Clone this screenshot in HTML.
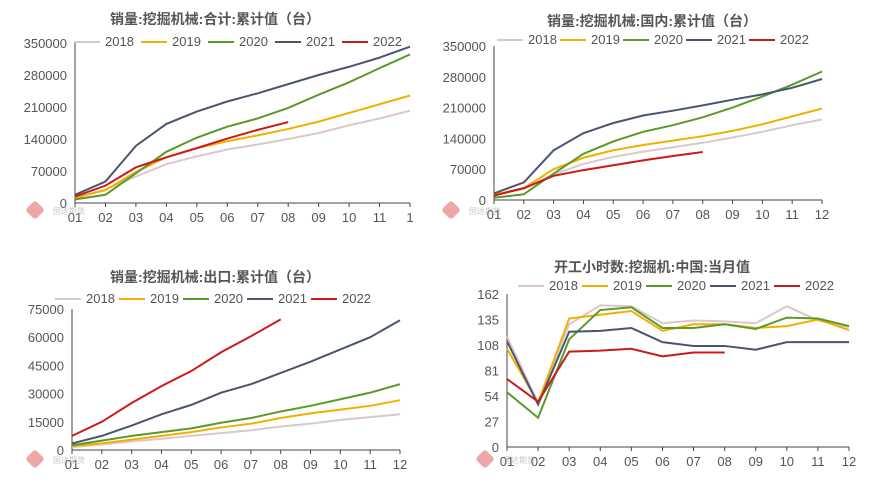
<!DOCTYPE html>
<html><head><meta charset="utf-8"><style>
body{margin:0;background:#fff;width:871px;height:491px;overflow:hidden;font-family:"Liberation Sans","Noto Sans CJK SC",sans-serif}
svg{display:block}
</style></head><body>
<svg id="s" width="871" height="491"></svg>
<script>
const months=["01","02","03","04","05","06","07","08","09","10","11","12"];
const years=["2018","2019","2020","2021","2022"];
const colors=["#d9c8cc","#f0b000","#5a9a2a","#4a5570","#cc1a1a"];
const tlTicks=[0,70000,140000,210000,280000,350000];
const tl2018=[10000,30000,58000,85000,102000,117000,128000,140000,153000,170000,185000,202000];
const tl2019=[12000,28000,68000,100000,120000,135000,148000,162000,178000,197000,216000,235000];
const tl2020=[8000,18000,65000,112000,143000,167000,185000,208000,237000,264000,295000,325000];
const tl2021=[18000,47000,125000,173000,200000,222000,240000,260000,280000,298000,318000,342000];
const tl2022=[14000,38000,78000,100000,120000,141000,160000,177000];
const tr2018=[12000,25000,58000,82000,98000,110000,120000,130000,142000,155000,170000,183000];
const tr2019=[12000,27000,70000,96000,113000,125000,135000,145000,157000,172000,190000,208000];
const tr2020=[5000,13000,60000,105000,133000,155000,170000,188000,210000,235000,262000,292000];
const tr2021=[15000,40000,113000,152000,175000,192000,203000,215000,228000,240000,255000,275000];
const tr2022=[10000,27000,55000,68000,79000,90000,100000,109000];
const blTicks=[0,15000,30000,45000,60000,75000];
const bl2018=[1500,3000,4500,6000,7500,9000,10500,12500,14000,16000,17500,19000];
const bl2019=[2000,3500,5500,7500,9500,12000,14000,17000,19500,21500,23500,26500];
const bl2020=[2500,5000,7500,9500,11500,14500,17000,20500,23500,27000,30500,35000];
const bl2021=[3500,7500,13000,19000,24000,30500,35000,41000,47000,53500,60000,69000];
const bl2022=[7500,15000,25000,34000,42000,52000,60500,69500];
const brTicks=[0,27,54,81,108,135,162];
const br2018=[117,47,130,150,149,131,134,133,131,149,134,127];
const br2019=[104,47,136,140,144,123,130,130,126,128,135,124];
const br2020=[58,31,114,145,148,126,126,130,125,137,136,128];
const br2021=[112,45,122,123,126,111,107,107,103,111,111,111];
const br2022=[72,48,101,102,104,96,100,100];

const NS="http://www.w3.org/2000/svg";
const svg=document.getElementById('s');
function mk(t,a,p){const e=document.createElementNS(NS,t);for(const k in a)e.setAttribute(k,a[k]);(p||svg).appendChild(e);return e;}
function chart(o){
  const g=mk('g',{});
  
  
  const max=o.ticks[o.ticks.length-1];
  const xs=i=>o.x0+(o.x1-o.x0)*i/11;
  const ys=v=>o.y0-(o.y0-o.yt)*v/max;
  const t=mk('text',{x:o.tx,y:o.ty,'text-anchor':'middle','font-size':14,'font-weight':'bold',fill:'#555'},g);t.textContent=o.title;
  
  
  o.ticks.forEach(v=>{const l=mk('text',{x:o.x0-8,y:ys(v)+5,'text-anchor':'end','font-size':13,fill:'#555'},g);l.textContent=v;
    
    });
  mk('line',{x1:o.x0,y1:o.yt,x2:o.x0,y2:o.y0,stroke:'#444','stroke-width':1},g);
  mk('line',{x1:o.x0,y1:o.y0,x2:o.x1,y2:o.y0,stroke:'#444','stroke-width':1},g);
  months.forEach((m,i)=>{mk('line',{x1:xs(i),y1:o.y0,x2:xs(i),y2:o.y0+4,stroke:'#444'},g);
    const l=mk('text',{x:xs(i),y:o.y0+19,'text-anchor':'middle','font-size':13,fill:'#555'},g);l.textContent=(o.lastOne&&i==11)?'1':m;
    
    });
  o.series.forEach((d,k)=>{
    const p=mk('polyline',{points:d.map((v,i)=>xs(i)+','+ys(v)).join(' '),fill:'none',stroke:colors[k],'stroke-width':2},g);
    
    
    const lx=o.lx+k*o.lw;
    const le=mk('g',{},g);
    
    
    mk('line',{x1:lx,y1:o.ly,x2:lx+26,y2:o.ly,stroke:colors[k],'stroke-width':2},le);
    const lt=mk('text',{x:lx+31,y:o.ly+4,'font-size':13,fill:'#555'},le);lt.textContent=years[k];
  });
  const w=mk('g',{opacity:0.55},g);
  
  
  mk('rect',{x:o.wx,y:o.wy,width:14,height:14,rx:3,fill:'#e06060',transform:`rotate(45 ${o.wx+7} ${o.wy+7})`},w);
  const wt=mk('text',{x:o.wx+25,y:o.wy+11,'font-size':8,fill:'#999'},w);wt.textContent='国达期货';
}
chart({name:'chart-total-sales',title:'销量:挖掘机械:合计:累计值（台）',tx:215,ty:24,x0:75,x1:410,y0:203,yt:43,ticks:tlTicks,series:[tl2018,tl2019,tl2020,tl2021,tl2022],lx:74,lw:67,ly:42,lastOne:true,wx:28,wy:203});
chart({name:'chart-domestic-sales',title:'销量:挖掘机械:国内:累计值（台）',tx:652,ty:26,x0:494,x1:822,y0:200,yt:46,ticks:tlTicks,series:[tr2018,tr2019,tr2020,tr2021,tr2022],lx:497,lw:63,ly:40,wx:444,wy:203});
chart({name:'chart-export-sales',title:'销量:挖掘机械:出口:累计值（台）',tx:215,ty:282,x0:72,x1:400,y0:450,yt:309,ticks:blTicks,series:[bl2018,bl2019,bl2020,bl2021,bl2022],lx:55,lw:64,ly:299,wx:28,wy:452});
chart({name:'chart-working-hours',title:'开工小时数:挖掘机:中国:当月值',tx:652,ty:272,x0:507,x1:849,y0:447,yt:294,ticks:brTicks,series:[br2018,br2019,br2020,br2021,br2022],lx:518,lw:64,ly:286,wx:478,wy:452});
</script>
</body></html>
